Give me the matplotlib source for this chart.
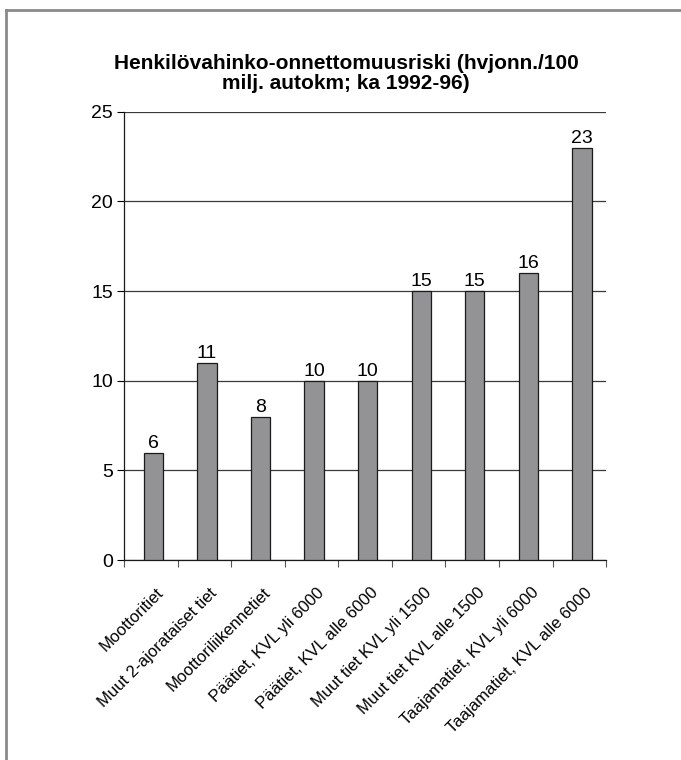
import matplotlib.pyplot as plt
from matplotlib.lines import Line2D
from matplotlib.transforms import ScaledTranslation

plt.rcParams['font.family'] = ['Liberation Sans', 'DejaVu Sans']

categories = ["Moottoritiet", "Muut 2-ajorataiset tiet", "Moottoriliikennetiet",
              "Päätiet, KVL yli 6000", "Päätiet, KVL alle 6000", "Muut tiet KVL yli 1500",
              "Muut tiet KVL alle 1500", "Taajamatiet, KVL yli 6000", "Taajamatiet, KVL alle 6000"]
values = [6, 11, 8, 10, 10, 15, 15, 16, 23]
yticks = [0, 5, 10, 15, 20, 25]

fig = plt.figure(figsize=(6.81, 7.6), dpi=100)
ax = fig.add_axes([0.182, 0.263, 0.708, 0.590])

x = list(range(len(categories)))
xb = [i + 0.05 for i in x]
ax.bar(xb, values, width=0.36, color='#939395', edgecolor='#1a1a1a', linewidth=0.9, zorder=3)
for xi, v in zip(xb, values):
    ax.text(xi, v + 0.05, str(v), ha='center', va='bottom', fontsize=14, zorder=4)

ax.set_xlim(-0.5, len(categories) - 0.5)
ax.set_ylim(0, 25)
ax.set_yticks(yticks)
ax.tick_params(axis='y', labelsize=14, direction='out', length=5, width=0.8, pad=3)
ax.yaxis.grid(True, color='#3a3a3a', linewidth=0.9, zorder=0)

ax.set_xticks(x)
ax.set_xticklabels(categories, rotation=45, ha='right', rotation_mode='anchor', fontsize=12)
ax.tick_params(axis='x', which='major', length=0, pad=18)
offset = ScaledTranslation(5 / 100, 0, fig.dpi_scale_trans)
for lab in ax.get_xticklabels():
    lab.set_transform(lab.get_transform() + offset)
ax.set_xticks([i - 0.5 for i in range(len(categories) + 1)], minor=True)
ax.tick_params(axis='x', which='minor', direction='out', length=5, width=0.8, color='#555555')

for s in ['top', 'right']:
    ax.spines[s].set_visible(False)
for s in ['left', 'bottom']:
    ax.spines[s].set_color('#1a1a1a')
    ax.spines[s].set_linewidth(0.9)

fig.text(0.508, 0.903, "Henkilövahinko-onnettomuusriski (hvjonn./100\nmilj. autokm; ka 1992-96)",
         ha='center', va='center', fontsize=15, fontweight='bold', linespacing=1.08)

# partial frame (top and left edges)
fig.add_artist(Line2D([0.009, 1.0], [0.987, 0.987], color='#8a8a8a', linewidth=2, transform=fig.transFigure))
fig.add_artist(Line2D([0.009, 0.009], [0.0, 0.987], color='#8a8a8a', linewidth=2, transform=fig.transFigure))

fig.savefig('out.png', dpi=100)
